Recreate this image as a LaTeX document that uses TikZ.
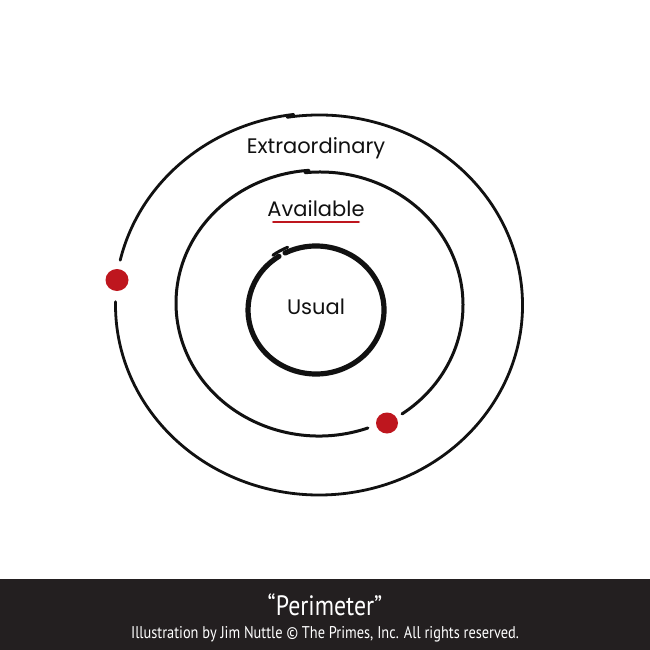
\documentclass[tikz,border=0pt]{standalone}
\usepackage{fontspec}
\setmainfont{Poppins}
\newfontfamily\capfont{PT Sans}
\usepackage{tikz}
\usetikzlibrary{positioning}
\definecolor{ink}{HTML}{111111}
\definecolor{dotred}{HTML}{BE161E}
\definecolor{band}{HTML}{231F20}
\tikzset{
  ring/.style={draw=ink, line cap=round},
  word/.style={font=\fontsize{21}{24}\selectfont, text=ink, inner sep=1pt},
  spot/.style={fill=dotred, draw=none},
  captxt/.style={text=white, font=\capfont, inner sep=0pt},
}

\begin{document}
\begin{tikzpicture}[x=1pt, y=-1pt]
  \useasboundingbox (0,0) rectangle (650,650);
  \fill[white] (0,0) rectangle (650,650);
  % outer ring, open on the left
  \draw[ring, line width=2.8pt] (318.5,303) ++(193:203.5 and 190)
    arc[start angle=193, end angle=263, x radius=203.5, y radius=190];
  \draw[ring, line width=2.8pt] (319,305) ++(261:203.5 and 190)
    arc[start angle=261, end angle=541, x radius=203.5, y radius=190];
  % middle ring, open at lower right
  \draw[ring, line width=3pt] (319,303) ++(70:143 and 133)
    arc[start angle=70, end angle=266, x radius=143, y radius=133];
  \draw[ring, line width=3pt] (320,305) ++(264:143 and 133)
    arc[start angle=264, end angle=415, x radius=143, y radius=133];
  % inner ring
  \draw[ring, line width=5.2pt] (316,310) ++(243:68 and 64)
    arc[start angle=243, end angle=597, x radius=68, y radius=64];
  \draw[ring, line width=3pt] (315,308) ++(233:70 and 66)
    arc[start angle=233, end angle=247, x radius=70, y radius=66];
  % dots
  \fill[spot] (117,280) ellipse (11.5 and 11);
  \fill[spot] (387,423) ellipse (11 and 10.5);
  % labels
  \node[word] (extra) at (316,148) {Extraordinary};
  \node[word] (avail) at (316,209) {Available};
  \node[word] (usual) at (316,307) {Usual};
  \coordinate (ul) at ([xshift=7pt,yshift=-5pt]avail.base west);
  \draw[dotred, line width=2.6pt, line cap=round] (ul) -- ([xshift=-7pt]avail.base east |- ul);
  % caption band
  \fill[band] (0,579) rectangle (650,650);
  \node[captxt, font=\capfont\fontsize{28}{30}\selectfont, xscale=0.85] (title) at (325,605) {“Perimeter”};
  \node[captxt, font=\capfont\fontsize{17}{19}\selectfont, xscale=0.845] (credit) at (325,634) {Illustration by Jim Nuttle © The Primes, Inc. All rights reserved.};
\end{tikzpicture}
\end{document}
